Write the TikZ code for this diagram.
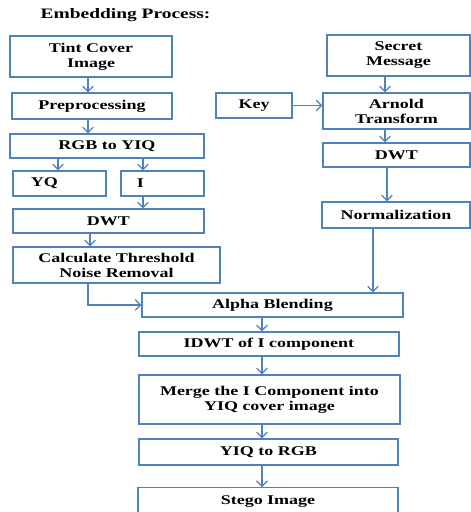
\documentclass[tikz,border=0pt]{standalone}
\usepackage{fontspec}
\setmainfont{Liberation Serif}[FakeStretch=1.35]
\usetikzlibrary{arrows.meta}
\definecolor{boxblue}{RGB}{79,129,189}

\begin{document}
\begin{tikzpicture}[x=0.75pt,y=0.75pt,yscale=-1,xscale=1,
  box/.style={draw=boxblue,line width=0.9pt,inner sep=0pt,align=center,
    font=\fontsize{10}{11.25}\selectfont\bfseries},
  arr/.style={draw=boxblue,line width=0.9pt,-{Straight Barb[length=4pt,width=8pt]}}]
\useasboundingbox (0,0) rectangle (471,512);

% Text Node
\node [anchor=west,font=\fontsize{10.8}{12}\selectfont\bfseries] (title) at (36,15) {Embedding Process:};

%Shape: Rectangle (cover column)
\node [box,minimum width=121.5pt,minimum height=30.75pt] (tint) at (91,56.5) {Tint Cover\\Image};
\node [box,minimum width=120pt,minimum height=19.5pt] (pre) at (92,106) {Preprocessing};
\node [box,minimum width=145.5pt,minimum height=18pt] (rgb) at (107,146) {RGB to YIQ};
\node [box,minimum height=18.75pt,text width=42.75pt,inner xsep=13.5pt,align=left] (yq) at (59.5,183.5) {YQ};
\node [box,minimum height=18.75pt,text width=38.25pt,inner xsep=12pt,align=left] (ich) at (162.5,183.5) {I};
\node [box,minimum width=143.25pt,minimum height=18pt] (dwtl) at (108.5,221) {DWT};
\node [box,minimum width=155.25pt,minimum height=27pt] (calc) at (116.5,265) {Calculate Threshold\\Noise Removal};

%Shape: Rectangle (message column)
\node [box,minimum width=107.25pt,minimum height=30.75pt] (secret) at (398.5,55.5) {Secret\\Message};
\node [box,minimum width=57pt,minimum height=18.75pt] (key) at (254,105.5) {Key};
\node [box,minimum width=110.25pt,minimum height=27pt] (arnold) at (396.5,111) {Arnold\\Transform};
\node [box,minimum width=110.25pt,minimum height=18pt] (dwtr) at (396.5,155) {DWT};
\node [box,minimum width=111pt,minimum height=19.5pt] (norm) at (396,215) {Normalization};

%Shape: Rectangle (merged column)
\node [box,minimum width=195.75pt,minimum height=18pt] (alpha) at (272.5,305) {Alpha Blending};
\node [box,minimum width=195pt,minimum height=18pt] (idwt) at (269,344) {IDWT of I component};
\node [box,minimum width=195.75pt,minimum height=36.75pt] (merge) at (269.5,399.5) {Merge the I Component into\\YIQ cover image};
\node [box,minimum width=194.25pt,minimum height=19.5pt] (yiq) at (268.5,452) {YIQ to RGB};
\node [box,minimum width=195pt,minimum height=20.25pt,anchor=north] (stego) at (268,487) {Stego Image};

%Straight Lines
\draw [arr] (tint.south -| 88,0) -- (pre.north -| 88,0);
\draw [arr] (pre.south -| 88,0) -- (rgb.north -| 88,0);
\draw [arr] (rgb.south -| 58,0) -- (yq.north -| 58,0);
\draw [arr] (rgb.south -| 143,0) -- (ich.north -| 143,0);
\draw [arr] (ich.south -| 143,0) -- (dwtl.north -| 143,0);
\draw [arr] (dwtl.south -| 90,0) -- (calc.north -| 90,0);
\draw [arr] (calc.south -| 88,0) |- (alpha.west);

\draw [arr] (secret.south -| 385,0) -- (arnold.north -| 385,0);
\draw [arr] (key.east) -- (key.east -| arnold.west);
\draw [arr] (arnold.south -| 385,0) -- (dwtr.north -| 385,0);
\draw [arr] (dwtr.south -| 387,0) -- (norm.north -| 387,0);
\draw [arr] (norm.south -| 373,0) -- (alpha.north -| 373,0);

\draw [arr] (alpha.south -| 262,0) -- (idwt.north -| 262,0);
\draw [arr] (idwt.south -| 262,0) -- (merge.north -| 262,0);
\draw [arr] (merge.south -| 262,0) -- (yiq.north -| 262,0);
\draw [arr] (yiq.south -| 262,0) -- (stego.north -| 262,0);
\end{tikzpicture}
\end{document}
